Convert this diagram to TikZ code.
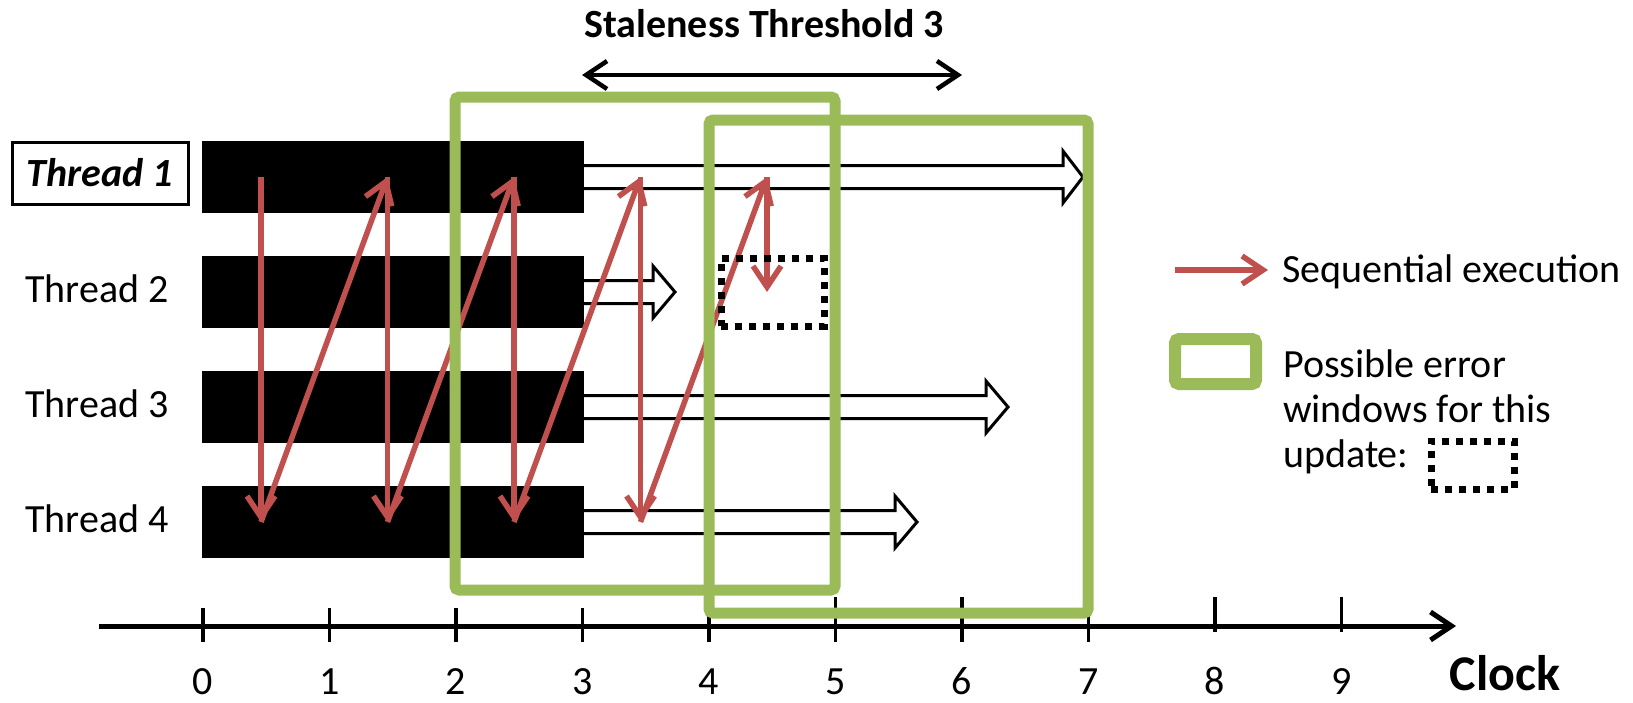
\documentclass[tikz,border=0pt]{standalone}
\usepackage{fontspec}
\setmainfont{Carlito}
\usetikzlibrary{arrows.meta,calc}
\definecolor{seqred}{HTML}{C0504D}
\definecolor{wingreen}{HTML}{9BBB59}
\begin{document}
\begin{tikzpicture}[x=1pt,y=-1pt,
  txt/.style={inner sep=0pt, font=\fontsize{40}{48}\selectfont},
  threadbar/.style={fill=black, draw=none, inner sep=0pt, outer sep=0pt, minimum width=382pt, minimum height=72pt, anchor=west},
  hollow/.style={draw=black, line width=3pt, fill=white, line join=miter},
  seq/.style={draw=seqred, line width=5.5pt, -{Straight Barb[length=21pt,width=28pt]}},
  win/.style={draw=wingreen, line width=11pt, rounded corners=4pt, inner sep=0pt, outer sep=0pt, anchor=north west},
  upd/.style={draw=black, line width=7pt, dash pattern=on 7pt off 7pt, inner sep=0pt, outer sep=0pt, anchor=north west},
  axtick/.style={line width=3.5pt},
]
\useasboundingbox (0,0) rectangle (1633,702);

% ---- clock axis ----
\coordinate (axL) at (99,626);
\coordinate (axR) at (1456,626);
\draw[line width=5pt, -{Straight Barb[length=21pt,width=28pt]}] (axL) -- (axR);
\foreach \i in {0,...,4} \draw[axtick] (203+126.5*\i,608) -- (203+126.5*\i,642);
\foreach \i in {5,6,7} \draw[axtick] (203+126.5*\i,597) -- (203+126.5*\i,642);
\foreach \i in {8,9} \draw[axtick] (203+126.5*\i,597) -- (203+126.5*\i,632);
\foreach \i in {0,...,9} \node[txt, anchor=base] (n\i) at (203+126.5*\i,694) {\i};
\node[inner sep=0pt, anchor=base, font=\fontsize{50}{58}\selectfont\bfseries] (clock) at (1505,690) {Clock};

% ---- thread labels ----
\node[draw, line width=3pt, inner sep=0pt, minimum width=176pt, minimum height=62pt,
      font=\fontsize{40}{48}\selectfont\bfseries\itshape] (th1) at (100,173) {Thread 1};
\node[txt, anchor=base] (th2) at (97,302) {Thread 2};
\node[txt, anchor=base] (th3) at (97,417) {Thread 3};
\node[txt, anchor=base] (th4) at (97,532) {Thread 4};

% ---- thread bars ----
\node[threadbar] (b1) at (202,177) {};
\node[threadbar] (b2) at (202,292) {};
\node[threadbar] (b3) at (202,407) {};
\node[threadbar] (b4) at (202,522) {};

% ---- hollow progress arrows ----
\draw[hollow] (b1.east) ++(0,-11.5) -- ++(479,0) -- ++(0,-14.5) -- ++(20,26) -- ++(-20,26) -- ++(0,-14.5) -- ++(-479,0);
\draw[hollow] (b2.east) ++(0,-11.5) -- ++(69,0) -- ++(0,-14.5) -- ++(22,26) -- ++(-22,26) -- ++(0,-14.5) -- ++(-69,0);
\draw[hollow] (b3.east) ++(0,-11.5) -- ++(402,0) -- ++(0,-14.5) -- ++(22,26) -- ++(-22,26) -- ++(0,-14.5) -- ++(-402,0);
\draw[hollow] (b4.east) ++(0,-11.5) -- ++(311,0) -- ++(0,-14.5) -- ++(22,26) -- ++(-22,26) -- ++(0,-14.5) -- ++(-311,0);

% ---- sequential execution (red) ----
\foreach \k in {0,...,4} {
  \coordinate (r\k t) at (261+126.5*\k,177);
  \coordinate (r\k b) at (261+126.5*\k,522);
}
\coordinate (r4m) at (767,292);
\draw[seq] (r0t) -- (r0b);
\draw[seq] (r0b) -- (r1t);
\draw[seq] (r1t) -- (r1b);
\draw[seq] (r1b) -- (r2t);
\draw[seq] (r2t) -- (r2b);
\draw[seq] (r2b) -- (r3t);
\draw[seq] (r3t) -- (r3b);
\draw[seq] (r3b) -- (r4t);
\draw[seq] (r4t) -- (r4m);

% ---- error windows ----
\node[win, minimum width=380pt, minimum height=493pt] (w1) at (455,97) {};
\node[win, minimum width=379pt, minimum height=493pt] (w2) at (709,120) {};

% ---- update box ----
\node[upd, minimum width=103pt, minimum height=68pt] (upd) at (721,258) {};

% ---- staleness threshold ----
\node[inner sep=0pt, anchor=base, font=\fontsize{40}{48}\selectfont\bfseries] (stal) at (764,37) {Staleness Threshold 3};
\coordinate (sL) at (582,75);
\coordinate (sR) at (962,75);
\draw[line width=4.5pt, {Straight Barb[length=21pt,width=28pt]}-{Straight Barb[length=21pt,width=28pt]}] (sL) -- (sR);

% ---- legend ----
\coordinate (lgA) at (1175,270);
\coordinate (lgB) at (1268,270);
\draw[seq] (lgA) -- (lgB);
\node[txt, anchor=base west] (lg1) at (1282,282) {Sequential execution};
\node[win, line width=12pt, minimum width=81pt, minimum height=45pt] (lgw) at (1175,339) {};
\node[txt, anchor=base west] (lg2) at (1283,377) {Possible error};
\node[txt, anchor=base west] (lg3) at (1283,422) {windows for this};
\node[txt, anchor=base west] (lg4) at (1283,467) {update:};
\node[upd, minimum width=83pt, minimum height=48pt] (lgu) at (1431,441) {};
\end{tikzpicture}
\end{document}
